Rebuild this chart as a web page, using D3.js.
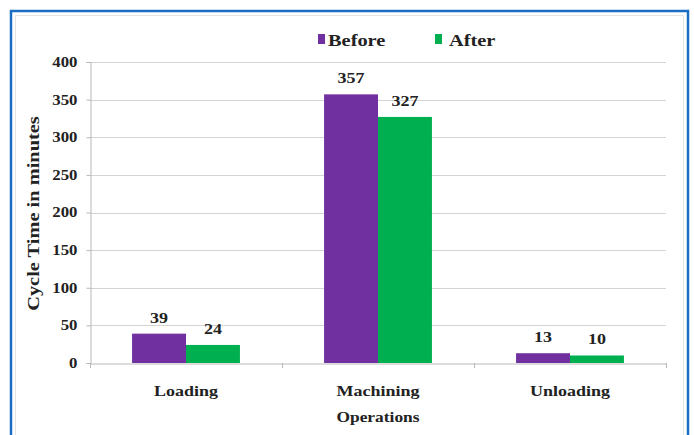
<!DOCTYPE html>
<html>
<head>
<meta charset="utf-8">
<script src="https://cdn.jsdelivr.net/npm/d3@7"></script>
<style>
  html, body { margin: 0; padding: 0; background: #fff; }
  svg { display: block; }
  svg text { font-family: 'Liberation Serif', Tinos, 'Times New Roman', Times, serif !important; font-weight: bold; fill: #222; }
</style>
</head>
<body>
<svg id="chart" width="694" height="435"></svg>
<script>
// Cycle time per operation, before and after improvement
const categories = ["Loading", "Machining", "Unloading"];
const seriesNames = ["Before", "After"];
const beforeValues = [39, 357, 13];
const afterValues = [24, 327, 10];
const yTicks = [0, 50, 100, 150, 200, 250, 300, 350, 400];

const colors = { Before: "#7030A0", After: "#00B050" };
const STRETCH = 1.2; // horizontal widening of the bold serif lettering

const svg = d3.select("#chart");
const H = 435;

// Widen a text element horizontally around its own anchor x
function widen(sel) {
  sel.each(function () {
    const t = d3.select(this);
    const ax = +t.attr("x") || 0;
    const prev = t.attr("transform") || "";
    t.attr("transform", `${prev} translate(${ax},0) scale(${STRETCH},1) translate(${-ax},0)`);
  });
}

// Outer frame
svg.append("rect").attr("x", 11).attr("y", 11).attr("width", 677).attr("height", H + 10)
  .attr("fill", "none").attr("stroke", "#1b6ec2").attr("stroke-width", 2.5);
svg.append("rect").attr("x", 15.5).attr("y", 15.5).attr("width", 668).attr("height", H + 10)
  .attr("fill", "none").attr("stroke", "#e4e4e4").attr("stroke-width", 1);

const plot = { left: 90, right: 666, top: 62, bottom: 363 };

const x = d3.scaleBand().domain(categories).range([plot.left, plot.right]);
const xs = d3.scaleBand().domain(seriesNames).range([0, x.bandwidth()]).paddingInner(0).paddingOuter(0.78);
const y = d3.scaleLinear().domain([0, 400]).range([plot.bottom, plot.top]);

// Gridlines
svg.append("g").selectAll("line").data(yTicks.filter(d => d > 0)).join("line")
  .attr("x1", plot.left).attr("x2", plot.right)
  .attr("y1", d => Math.round(y(d)) + 0.5).attr("y2", d => Math.round(y(d)) + 0.5)
  .attr("stroke", "#d4d4d4").attr("stroke-width", 1);

// Y axis
const yAxis = svg.append("g").attr("transform", `translate(${plot.left + 0.5},0)`)
  .call(d3.axisLeft(y).tickValues(yTicks).tickSize(4).tickPadding(9));
yAxis.select(".domain").attr("stroke", "#b8b8b8");
yAxis.selectAll(".tick line").attr("stroke", "#b8b8b8");
yAxis.selectAll(".tick text").attr("font-size", 14).attr("fill", "#222").call(widen);

// Bars
const rows = categories.map((c, i) => ({ cat: c, Before: beforeValues[i], After: afterValues[i] }));
const groups = svg.append("g").selectAll("g").data(rows).join("g")
  .attr("transform", d => `translate(${x(d.cat)},0)`);

groups.selectAll("rect").data(d => seriesNames.map(s => ({ s, v: d[s] }))).join("rect")
  .attr("x", d => xs(d.s))
  .attr("width", xs.bandwidth())
  .attr("y", d => y(d.v))
  .attr("height", d => y(0) - y(d.v))
  .attr("fill", d => colors[d.s]);

groups.selectAll("text.val").data(d => seriesNames.map(s => ({ s, v: d[s] }))).join("text")
  .attr("class", "val")
  .attr("x", d => xs(d.s) + xs.bandwidth() / 2)
  .attr("y", d => y(d.v) - 11)
  .attr("text-anchor", "middle")
  .attr("font-size", 15)
  .text(d => d.v)
  .call(widen);

// X axis
const xAxis = svg.append("g").attr("transform", `translate(0,${plot.bottom + 0.5})`)
  .call(d3.axisBottom(x).tickSize(0).tickPadding(22));
xAxis.select(".domain").attr("stroke", "#b8b8b8");
xAxis.selectAll(".tick text").attr("font-size", 15).attr("fill", "#222").call(widen);
// Category separator ticks
const bounds = categories.map(c => x(c)).concat([plot.right]);
svg.append("g").selectAll("line").data(bounds).join("line")
  .attr("x1", d => Math.round(d) + 0.5).attr("x2", d => Math.round(d) + 0.5)
  .attr("y1", plot.bottom).attr("y2", plot.bottom + 5)
  .attr("stroke", "#b8b8b8");

// Axis titles
svg.append("text").attr("x", (plot.left + plot.right) / 2).attr("y", 422)
  .attr("text-anchor", "middle").attr("font-size", 14.5).text("Operations").call(widen);
svg.append("text")
  .attr("transform", `translate(39,${(plot.top + plot.bottom) / 2 + 1}) rotate(-90) scale(${STRETCH},1)`)
  .attr("text-anchor", "middle").attr("font-size", 17).text("Cycle Time in minutes");

// Legend
const legend = svg.append("g");
const legendItems = [{ s: "Before", x: 318 }, { s: "After", x: 435 }];
legendItems.forEach(it => {
  legend.append("rect").attr("x", it.x).attr("y", 34).attr("width", 7).attr("height", 10)
    .attr("fill", colors[it.s]);
  legend.append("text").attr("x", it.x + (it.s === "Before" ? 10 : 14)).attr("y", 46)
    .attr("font-size", 17).text(it.s).call(widen);
});
</script>
</body>
</html>
